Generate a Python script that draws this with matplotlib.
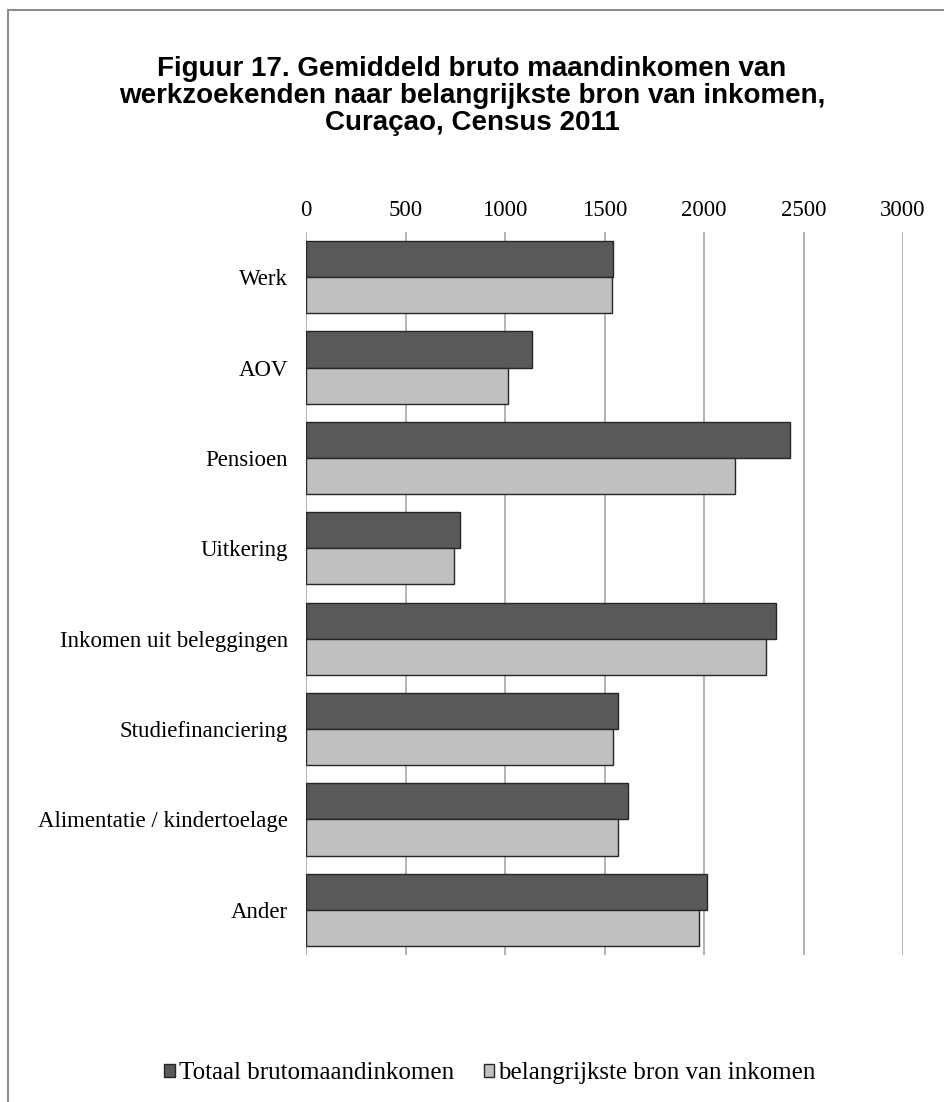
import matplotlib.pyplot as plt
from matplotlib.patches import Rectangle
import numpy as np

categorieen = ["Werk", "AOV", "Pensioen", "Uitkering", "Inkomen uit beleggingen",
               "Studiefinanciering", "Alimentatie / kindertoelage", "Ander"]
totaal = [1543, 1136, 2433, 775, 2361, 1568, 1619, 2014]
belangrijkste = [1535, 1013, 2155, 742, 2309, 1541, 1568, 1973]
ticks = [0, 500, 1000, 1500, 2000, 2500, 3000]

serif = "Liberation Serif"

fig = plt.figure(figsize=(9.44, 11.02), dpi=100)
ax = fig.add_axes([0.3242, 0.1334, 0.6324, 0.6561])

y = np.arange(len(categorieen))
h = 0.4
ax.barh(y - h / 2, totaal, height=h, color="#595959", edgecolor="#262626", linewidth=1,
        label="Totaal brutomaandinkomen", zorder=3)
ax.barh(y + h / 2, belangrijkste, height=h, color="#C0C0C0", edgecolor="#262626", linewidth=1,
        label="belangrijkste bron van inkomen", zorder=3)

ax.set_ylim(len(categorieen) - 0.5, -0.5)
ax.set_xlim(0, 3000)
ax.set_xticks(ticks)
ax.set_xticklabels([str(t) for t in ticks], fontfamily=serif, fontsize=16.5)
ax.set_yticks(y)
ax.set_yticklabels(categorieen, fontfamily=serif, fontsize=16.5)
ax.xaxis.tick_top()
ax.tick_params(axis="x", length=0, pad=8)
ax.tick_params(axis="y", length=0, pad=13)
for s in ax.spines.values():
    s.set_visible(False)
ax.grid(axis="x", color="#A6A6A6", linewidth=1.2, zorder=0)

fig.text(0.5, 0.913, "Figuur 17. Gemiddeld bruto maandinkomen van\n"
         "werkzoekenden naar belangrijkste bron van inkomen,\nCuraçao, Census 2011",
         ha="center", va="center", fontsize=20, fontweight="bold",
         fontfamily="Liberation Sans", linespacing=1.05)

fig.legend(loc="center", bbox_to_anchor=(0.519, 0.026), ncol=2, frameon=False,
           prop={"family": serif, "size": 18}, handlelength=0.42, handleheight=0.42,
           handletextpad=0.15, columnspacing=1.2)

fig.patches.append(Rectangle((8 / 944, -0.1), 1.2, 1.1 - 10 / 1102, transform=fig.transFigure,
                             fill=False, edgecolor="#8C8C8C", linewidth=1.5))

plt.savefig("out.png")
